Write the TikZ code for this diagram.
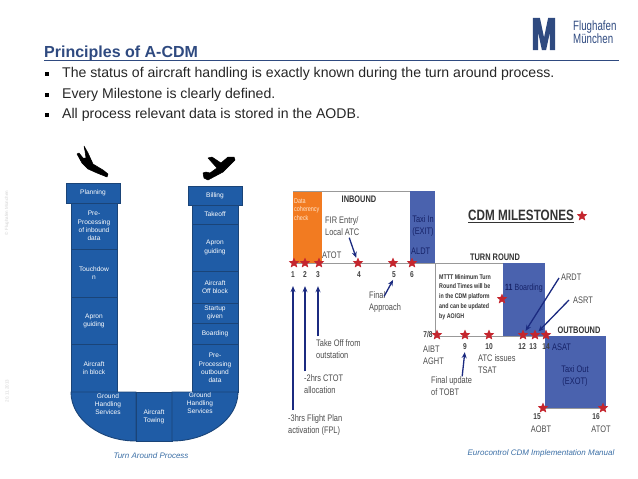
\documentclass[tikz,border=0pt]{standalone}
\usepackage{fontspec}
\setmainfont{Liberation Sans}
\newfontfamily\milefont[FakeStretch=0.78]{Liberation Sans}
\newfontfamily\logofont[FakeStretch=0.72]{Liberation Sans}
\newfontfamily\logobold[FakeStretch=0.66,FakeBold=3]{Liberation Sans Bold}
\usetikzlibrary{arrows.meta, shapes.geometric}
\definecolor{titleblue}{HTML}{2F4A80}
\definecolor{ublue}{HTML}{1F5CA6}
\definecolor{uedge}{HTML}{1A4478}
\definecolor{mileblue}{HTML}{4A62AE}
\definecolor{navyarrow}{HTML}{1B2A80}
\definecolor{mileorange}{HTML}{F27B21}
\definecolor{starred}{HTML}{C4262E}
\definecolor{captionblue}{HTML}{3A6EA5}
\begin{document}
\begin{tikzpicture}[
    x=1pt, y=-1pt,
    >={Stealth[length=6pt,width=5pt]},
    every node/.style={align=center, inner sep=0pt},
    bullettext/.style={anchor=west, font=\fontsize{14.1}{16}\selectfont, text=black!85},
    bulletmark/.style={fill=black, minimum size=3.6pt},
    ublock/.style={draw=uedge, fill=ublue, line width=0.9pt, text=white,
                   font=\fontsize{6.6}{8.2}\selectfont, minimum width=46pt},
    ucap/.style={ublock, minimum width=54pt, minimum height=20pt},
    ucurve/.style={draw=uedge, fill=ublue, line width=0.9pt},
    ulabel/.style={text=white, font=\fontsize{6.6}{8.2}\selectfont},
    milestar/.style={star, star points=5, star point ratio=2.2, fill=starred,
                     minimum size=11pt},
    milenum/.style={font=\milefont\bfseries\fontsize{8.5}{10}\selectfont, text=black!75},
    milelbl/.style={font=\milefont\fontsize{9.5}{12}\selectfont, text=black!70, align=left},
    milehead/.style={font=\milefont\bfseries\fontsize{9.5}{11}\selectfont, text=black!80},
    milebox/.style={fill=mileblue},
    mileedge/.style={draw=black!40, line width=0.8pt},
    bluearrow/.style={->, draw=navyarrow, line width=1.3pt, shorten >=2pt},
    caption/.style={font=\itshape\fontsize{8}{9}\selectfont, text=captionblue},
    planeshape/.style={fill=black, draw=black, line width=0.5pt, line join=round},
  ]
  \useasboundingbox (0,0) rectangle (638,479);

  %% --- header ---------------------------------------------------------------
  \node[anchor=base west, font=\bfseries\fontsize{16}{18}\selectfont, text=titleblue]
        (title) at (44,57.5) {Principles of A-CDM};
  \draw[draw=titleblue, line width=0.8pt] (title.base west |- 0,60.5) -- (619,60.5);

  \node[bulletmark] (bulA) at (47,74) {};
  \node[bulletmark] (bulB) at (47,95) {};
  \node[bulletmark] (bulC) at (47,115) {};
  \node[bullettext] (txtA) at (62,74) {The status of aircraft handling is exactly known during the turn around process.};
  \node[bullettext] (txtB) at (62,95) {Every Milestone is clearly defined.};
  \node[bullettext] (txtC) at (62,115) {All process relevant data is stored in the AODB.};

  %% --- logo -----------------------------------------------------------------
  \node[font=\logobold\fontsize{45}{45}\selectfont, text=titleblue]
        (logoM) at (544,34) {M};
  \node[anchor=west, align=left, font=\logofont\fontsize{13.5}{13.5}\selectfont, text=titleblue]
        (logoT) at (573,32) {Flughafen\\München};

  %% --- side marks -----------------------------------------------------------
  \node[rotate=90, font=\fontsize{4.5}{5}\selectfont, text=black!18] (markA) at (7,213) {\textcopyright{} Flughafen München};
  \node[rotate=90, font=\fontsize{4.5}{5}\selectfont, text=black!18] (markB) at (7,391) {20.11.2013};

  %% --- planes ---------------------------------------------------------------
  \fill[planeshape] (84,146) -- (88,153) -- (93,164) -- (103,170) -- (108,174) -- (107,177)
        -- (97,173) -- (88,169) -- (82,163) -- (77,154) -- (79,153) -- (83,158) -- (86,158) -- (85,151) -- cycle;
  \fill[planeshape] (234,157) -- (235,160) -- (223,172) -- (208,180) -- (204,178) -- (203,173)
        -- (206,172) -- (210,173) -- (217,168) -- (208,158) -- (212,157) -- (221,163) -- (228,157) -- cycle;

  %% --- left leg of the U ----------------------------------------------------
  \node[ublock, minimum height=47pt] (preIn) at (94,226) {Pre-\\Processing\\of inbound\\data};
  \node[ublock, minimum height=48pt] (touch) at (94,273) {Touchdow\\n};
  \node[ublock, minimum height=48pt] (aproA) at (94,321) {Apron\\guiding};
  \node[ublock, minimum height=48pt] (inblk) at (94,368) {Aircraft\\in block};
  \node[ucap] (plan) at (93,193) {Planning};

  %% --- right leg of the U ---------------------------------------------------
  \node[ublock, minimum height=19pt] (toff)  at (215,214.5) {Takeoff};
  \node[ublock, minimum height=47pt] (aproB) at (215,247.5) {Apron\\guiding};
  \node[ublock, minimum height=32pt] (ofblk) at (215,287) {Aircraft\\Off block};
  \node[ublock, minimum height=20pt] (start) at (215,313) {Startup\\given};
  \node[ublock, minimum height=21pt] (board) at (215,333.5) {Boarding};
  \node[ublock, minimum height=48pt] (preOut) at (215,368) {Pre-\\Processing\\outbound\\data};
  \node[ucap, minimum height=19pt] (bill) at (215,195.5) {Billing};

  %% --- bottom of the U ------------------------------------------------------
  \draw[ucurve] (136,392) -- (71,392) .. controls (71,419) and (100,441) .. (136,441) -- cycle;
  \draw[ucurve] (136,392) rectangle (172,441);
  \draw[ucurve] (172,392) -- (238,392) .. controls (238,419) and (208,441) .. (172,441) -- cycle;
  \node[ulabel] (ghsA) at (108,404) {Ground\\Handling\\Services};
  \node[ulabel] (tow)  at (154,417) {Aircraft\\Towing};
  \node[ulabel] (ghsB) at (200,403) {Ground\\Handling\\Services};

  \node[caption] (capL) at (151,456) {Turn Around Process};
  \node[caption] (capR) at (541,453) {Eurocontrol CDM Implementation Manual};

  %% --- milestone blocks -----------------------------------------------------
  \fill[mileorange] (293,191) rectangle (322,263);
  \fill[milebox] (410,191) rectangle (435,263);
  \fill[milebox] (503,263) rectangle (545,336);
  \fill[milebox] (545,336) rectangle (606,408);
  \draw[mileedge] (293,191) -- (410,191);
  \draw[mileedge] (293,263) -- (435,263) -- (435,336) -- (545,336);
  \draw[mileedge] (435,263) -- (503,263);
  \draw[mileedge] (545,408) -- (606,408);

  %% --- milestone texts ------------------------------------------------------
  \node[font=\milefont\fontsize{7}{8.5}\selectfont, text=white!80!orange, align=left, anchor=north west]
        (data) at (294,198) {Data\\coherency\\check};
  \node[milehead] (inb) at (359,199) {INBOUND};
  \node[milelbl, anchor=west] (fir) at (325,226) {FIR Entry/\\Local ATC};
  \node[milelbl, anchor=west] (atotA) at (322,255) {ATOT};
  \node[milelbl, align=center, text=navyarrow!80!black] (taxiIn) at (423,226) {Taxi In\\(EXIT)};
  \node[milelbl, anchor=west, text=navyarrow!80!black] (aldt) at (411,251) {ALDT};
  \node[milelbl, anchor=west] (appr) at (369,302) {Final\\Approach};
  \node[milelbl, anchor=west] (tkoff) at (316,349) {Take Off from\\outstation};
  \node[milelbl, anchor=west] (ctot) at (304,384) {-2hrs CTOT\\allocation};
  \node[milelbl, anchor=west] (fpl) at (288,425) {-3hrs Flight Plan\\activation (FPL)};
  \node[font=\milefont\bfseries\fontsize{15}{17}\selectfont, text=black!80] (head) at (521,216) {\underline{CDM MILESTONES}};
  \node[milehead] (turn) at (495,257) {TURN ROUND};
  \node[font=\milefont\bfseries\fontsize{6.8}{9.8}\selectfont, text=black!80, align=left, anchor=west]
        (mttt) at (439,297) {MTTT Minimum Turn\\Round Times will be\\in the CDM platform\\and can be updated\\by AO/GH};
  \node[milelbl, anchor=west, text=navyarrow!80!black] (brd) at (505,288) {\fontsize{9}{11}\selectfont\textbf{11} Boarding};
  \node[milelbl, anchor=west] (ardt) at (561,277) {ARDT};
  \node[milelbl, anchor=west] (asrt) at (573,300) {ASRT};
  \node[milehead] (outb) at (579,330) {OUTBOUND};
  \node[milelbl, anchor=west] (aibt) at (423,355) {AIBT\\AGHT};
  \node[milelbl, anchor=west] (tobt) at (431,386) {Final update\\of TOBT};
  \node[milelbl, anchor=west] (tsat) at (478,364) {ATC issues\\TSAT};
  \node[milelbl, anchor=west, text=navyarrow!80!black] (asat) at (552,347) {ASAT};
  \node[milelbl, align=center, text=navyarrow!80!black] (taxiOut) at (575,376) {Taxi Out\\(EXOT)};
  \node[milelbl] (aobt) at (541,429) {AOBT};
  \node[milelbl] (atotB) at (601,429) {ATOT};

  %% --- milestone numbers ----------------------------------------------------
  \node[milenum] (numA) at (293,275) {1};
  \node[milenum] (numB) at (305,275) {2};
  \node[milenum] (numC) at (318,275) {3};
  \node[milenum] (numD) at (359,275) {4};
  \node[milenum] (numE) at (394,275) {5};
  \node[milenum] (numF) at (412,275) {6};
  \node[milenum] (numG) at (428,335) {7/8};
  \node[milenum] (numI) at (465,347) {9};
  \node[milenum] (numJ) at (489,347) {10};
  \node[milenum] (numL) at (522,347) {12};
  \node[milenum] (numM) at (533,347) {13};
  \node[milenum] (numN) at (546,347) {14};
  \node[milenum] (numO) at (537,417) {15};
  \node[milenum] (numP) at (596,417) {16};

  %% --- milestone stars ------------------------------------------------------
  \node[milestar] (starA) at (294,263) {};
  \node[milestar] (starB) at (305,263) {};
  \node[milestar] (starC) at (319,263) {};
  \node[milestar] (starD) at (358,263) {};
  \node[milestar] (starE) at (393,263) {};
  \node[milestar] (starF) at (412,263) {};
  \node[milestar] (starG) at (437,335) {};
  \node[milestar] (starI) at (465,335) {};
  \node[milestar] (starJ) at (489,335) {};
  \node[milestar] (starL) at (523,335) {};
  \node[milestar] (starM) at (535,335) {};
  \node[milestar] (starN) at (546,335) {};
  \node[milestar] (starO) at (543,408) {};
  \node[milestar] (starP) at (603,408) {};
  \node[milestar] (starK) at (502,299) {};
  \node[milestar] (starH) at (582,216) {};

  %% --- arrows ---------------------------------------------------------------
  \draw[bluearrow] (fpl.north -| numA.south) ++(0,-4) -- ([yshift=-6pt]numA.south);
  \draw[bluearrow] (ctot.north -| numB.south) ++(0,-3) -- ([yshift=-6pt]numB.south);
  \draw[bluearrow] (tkoff.north -| numC.south) ++(0,-3) -- ([yshift=-6pt]numC.south);
  \draw[bluearrow] (fir.south) ++(7,2) -- (starD);
  \draw[bluearrow] (appr.north east) ++(-17,5) -- (numE.south);
  \draw[bluearrow] (tobt.north east) ++(-10,0) -- (numI.south);
  \draw[bluearrow] (ardt.west) ++(-2,1) -- (starL);
  \draw[bluearrow] (asrt.west) ++(-4,0) -- (starM);

\end{tikzpicture}
\end{document}
